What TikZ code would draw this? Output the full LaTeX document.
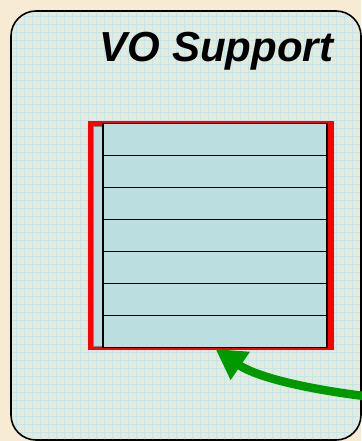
\documentclass[tikz,border=0pt]{standalone}
\usepackage{fontspec}
\setmainfont{Liberation Sans}
\usetikzlibrary{arrows.meta}
\definecolor{pagebg}{HTML}{F7EBD3}
\definecolor{boxbg}{HTML}{E2EBDD}
\definecolor{gridc}{HTML}{C9E4E6}
\definecolor{rowfill}{HTML}{BBDFE1}
\definecolor{arrowgreen}{HTML}{009A00}
\tikzset{
  outerbox/.style={draw=black, line width=1.6pt, rounded corners=25pt, fill=boxbg},
  rowbox/.style={draw=black, line width=1.7pt, fill=rowfill, minimum width=224pt, minimum height=32pt, inner sep=0pt, outer sep=0pt},
  redframe/.style={fill=red, draw=none},
  bigarrow/.style={draw=arrowgreen, line width=8.5pt, -{Triangle[length=30pt,width=32pt]}},
  titletext/.style={font=\bfseries\itshape\fontsize{42}{48}\selectfont}
}
\begin{document}
\begin{tikzpicture}[x=1pt,y=-1pt]
\useasboundingbox (0,0) rectangle (361,441);
\fill[pagebg] (0,0) rectangle (361,441);
\path[outerbox] (11,11) rectangle (361,440);
\begin{scope}
  \clip[rounded corners=25pt] (12,12) rectangle (360,439);
  \draw[gridc, line width=0.6pt] (4,4) grid[step=8pt] (361,441);
\end{scope}
\node[titletext, anchor=base] (title) at (216.5,62) {VO Support};
\fill[redframe] (88,121) rectangle (334,350);
\fill[rowfill, draw=gridc!60!black, line width=0.3pt] (93.5,126.5) rectangle (103,346.5);
\foreach \i in {0,...,6} {
  \node[rowbox, anchor=north west] (r\i) at (103,123.5+32*\i) {};
}
\coordinate (tail) at (364,396);
\coordinate (tip) at (215.5,349);
\draw[bigarrow] (tail) .. controls (300,388) and (255,376) .. (tip);
\end{tikzpicture}
\end{document}
